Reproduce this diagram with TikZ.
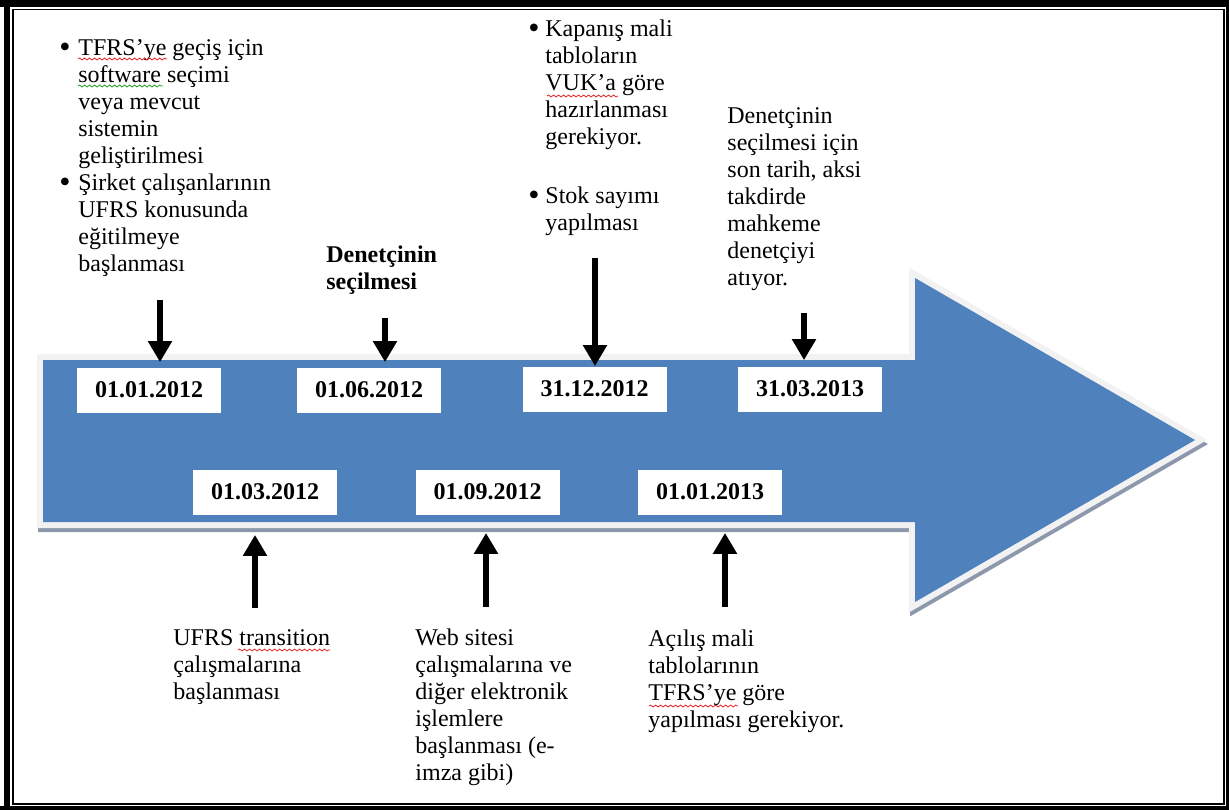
\documentclass[tikz,border=0pt]{standalone}
\usepackage{fontspec}
\setmainfont{Liberation Serif}
\usetikzlibrary{arrows.meta,decorations.pathmorphing}

\definecolor{arrowblue}{RGB}{79,129,189}
\definecolor{rimgrey}{RGB}{242,242,242}
\definecolor{shadowgrey}{RGB}{140,152,172}
\definecolor{spellred}{RGB}{230,40,40}
\definecolor{spellgreen}{RGB}{40,160,40}

\newcommand{\bigdot}{\raisebox{-1.3pt}{\fontsize{16}{13.5}\selectfont\textbullet}}

\tikzstyle{datebox} = [fill=white, inner sep=0pt, minimum width=72pt, minimum height=22.5pt, font=\fontsize{12}{13.5}\selectfont\bfseries]
\tikzstyle{note} = [anchor=base west, inner sep=0pt, font=\fontsize{12}{13.5}\selectfont]
\tikzstyle{pointer} = [line width=3pt, -{Triangle[width=11.5pt,length=10.5pt]}]
\tikzstyle{squiggle} = [decorate, decoration={snake, amplitude=.5pt, segment length=2.5pt}, line width=.4pt]

\begin{document}
\begin{tikzpicture}[x=0.5pt,y=-0.5pt]
      \useasboundingbox (0,0) rectangle (1229,810);
      % page frame
      \fill[black] (0,0) rectangle (1229,810);
      \fill[white] (0,7) rectangle (1226,806);
      \fill[black] (4,7) rectangle (10,806);
      \draw[line width=.6pt] (13,9.5) rectangle (1224,804);
      % big arrow
      \begin{scope}[shift={(1,4)}]
      \draw[line width=6pt, shadowgrey, fill=shadowgrey] (43,360) -- (915,360) -- (915,278) -- (1195,440) -- (915,602) -- (915,522) -- (43,522) -- cycle;
      \end{scope}
      \draw[line width=6pt, rimgrey] (43,360) -- (915,360) -- (915,278) -- (1195,440) -- (915,602) -- (915,522) -- (43,522) -- cycle;
      \fill[arrowblue] (43,360) -- (915,360) -- (915,278) -- (1195,440) -- (915,602) -- (915,522) -- (43,522) -- cycle;
      % dates
      \node[datebox] (d1) at (149,390) {01.01.2012};
      \node[datebox] (d2) at (369,390) {01.06.2012};
      \node[datebox] (d3) at (594.5,389) {31.12.2012};
      \node[datebox] (d4) at (810,389) {31.03.2013};
      \node[datebox] (u1) at (265,492) {01.03.2012};
      \node[datebox] (u2) at (487.5,492) {01.09.2012};
      \node[datebox] (u3) at (710,492) {01.01.2013};
      % notes above
      \node[note] (prep) at (59,55) {\begin{tabular}[t]{@{}l@{}l@{}}
        \makebox[9.5pt][l]{\bigdot} & TFRS’ye geçiş için\\
         & software seçimi\\
         & veya mevcut\\
         & sistemin\\
         & geliştirilmesi\\
        \makebox[9.5pt][l]{\bigdot} & Şirket çalışanlarının\\
         & UFRS konusunda\\
         & eğitilmeye\\
         & başlanması
      \end{tabular}};
      \node[note, font=\fontsize{12}{13.5}\selectfont\bfseries] (auditor) at (326,262) {\begin{tabular}[t]{@{}l@{}}
        Denetçinin\\ seçilmesi
      \end{tabular}};
      \node[note] (closing) at (528,36) {\begin{tabular}[t]{@{}l@{}l@{}}
        \makebox[8.5pt][l]{\bigdot} & Kapanış mali\\
         & tabloların\\
         & VUK’a göre\\
         & hazırlanması\\
         & gerekiyor.\\[16pt]
        \makebox[8.5pt][l]{\bigdot} & Stok sayımı\\
         & yapılması
      \end{tabular}};
      \node[note] (deadline) at (727,123) {\begin{tabular}[t]{@{}l@{}}
        Denetçinin\\ seçilmesi için\\ son tarih, aksi\\ takdirde\\ mahkeme\\ denetçiyi\\ atıyor.
      \end{tabular}};
      % notes below
      \node[note] (transition) at (173,645) {\begin{tabular}[t]{@{}l@{}}
        UFRS transition\\ çalışmalarına\\ başlanması
      \end{tabular}};
      \node[note] (website) at (415,645) {\begin{tabular}[t]{@{}l@{}}
        Web sitesi\\ çalışmalarına ve\\ diğer elektronik\\ işlemlere\\ başlanması (e-\\ imza gibi)
      \end{tabular}};
      \node[note] (opening) at (648,646) {\begin{tabular}[t]{@{}l@{}}
        Açılış mali\\ tablolarının\\ TFRS’ye göre\\ yapılması gerekiyor.
      \end{tabular}};
      % spelling marks
      \draw[squiggle, spellred] (78,59) -- (167,59);
      \draw[squiggle, spellgreen] (78,86) -- (163,86);
      \draw[squiggle, spellred] (547,96) -- (618,96);
      \draw[squiggle, spellred] (238,650) -- (330,650);
      \draw[squiggle, spellred] (649,706) -- (738,706);
      % pointers
      \coordinate (p1) at (160,300);
      \coordinate (p2) at (385,318);
      \coordinate (p3) at (595,258);
      \coordinate (p4) at (804,313);
      \draw[pointer, shorten >=2.5pt] (p1) -- (p1 |- d1.north);
      \draw[pointer, shorten >=2.5pt] (p2) -- (p2 |- d2.north);
      \draw[pointer] (p3) -- (p3 |- d3.north);
      \draw[pointer, shorten >=3pt] (p4) -- (p4 |- d4.north);
      \coordinate (q1) at (255,608);
      \coordinate (q2) at (486,607);
      \coordinate (q3) at (725,607);
      \draw[pointer, shorten >=10pt] (q1) -- (q1 |- u1.south);
      \draw[pointer, shorten >=9pt] (q2) -- (q2 |- u2.south);
      \draw[pointer, shorten >=9pt] (q3) -- (q3 |- u3.south);
    \end{tikzpicture}
\end{document}
